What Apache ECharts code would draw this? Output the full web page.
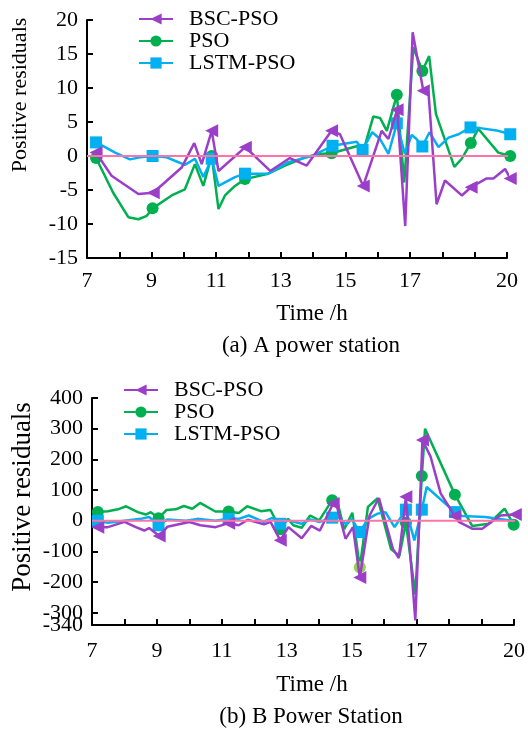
<!DOCTYPE html>
<html>
<head>
<meta charset="utf-8">
<script src="https://cdn.jsdelivr.net/npm/echarts@6/dist/echarts.min.js"></script>
<style>
html,body{margin:0;padding:0;background:#fff;}
#chart{width:528px;height:731px;}
</style>
</head>
<body>
<div id="chart"></div>
<script>
// ---------- Data: (a) A power station ----------
const hA_bsc = [7.28,7.76,8.59,9.05,9.93,10.32,10.55,10.86,11.07,11.9,12.67,13.28,13.8,14.57,14.83,15.55,16.12,16.33,16.6,16.85,17.08,17.41,17.57,17.82,18.08,18.6,18.89,19.37,19.58,19.94,20.1];
const vA_bsc = [0.5,-2.9,-5.6,-5.4,-1.7,1.9,-1.2,3.7,-2.2,1.3,-2.2,-0.3,-1.4,3.7,3.2,-4.4,3.7,2.5,6.8,-10.3,18.2,9.6,9.4,-7.1,-3.6,-5.8,-4.6,-3.3,-3.3,-1.9,-3.3];
const mA_bsc = [7.28,9.05,10.86,11.9,14.57,15.55,16.6,17.41,18.89,20.1];

const hA_pso = [7.28,7.81,8.28,8.59,8.85,9.03,9.62,10.03,10.34,10.6,10.86,11.07,11.27,11.58,11.89,12.61,13.13,13.75,14.16,14.57,15.4,15.6,15.86,16.07,16.28,16.59,16.82,17.1,17.38,17.59,17.8,18.37,18.6,18.88,19.11,19.73,20.1];
const vA_pso = [-0.3,-5.4,-9.0,-9.3,-8.8,-7.7,-5.8,-4.9,-1.2,-4.4,0,-7.8,-5.8,-4.4,-3.4,-2.6,-1.4,-0.2,0.3,0.4,1.5,1.5,5.8,5.6,3.7,9.0,-3.9,16.0,12.5,14.7,6.2,-1.6,-0.4,1.9,4.0,0.5,0];
const mA_pso = [7.28,9.03,10.86,11.89,14.57,16.59,17.38,18.88,20.1];

const hA_lstm = [7.28,7.56,7.87,8.33,8.64,9.03,9.47,9.72,10.03,10.34,10.6,10.86,11.07,11.58,11.89,12.61,13.23,13.96,14.6,15.35,15.53,15.83,16.07,16.33,16.59,16.84,17.05,17.2,17.38,17.6,17.88,18.19,18.5,18.87,19.17,19.73,20.1];
const vA_lstm = [2.0,1.3,0.5,-0.5,-0.2,0,-0.2,-0.7,-1.3,-0.4,-3.1,-0.4,-4.4,-3.1,-2.6,-2.6,-0.9,0,1.5,2.1,0.9,3.5,2.5,0.3,4.8,0.3,3.1,2.5,1.4,3.5,1.3,2.7,3.2,4.2,4.1,3.7,3.2];
const mA_lstm = [7.28,9.03,10.86,11.89,14.6,15.53,16.59,17.38,18.87,20.1];

// ---------- Data: (b) B Power Station ----------
const hB_bsc = [7.18,7.49,8.0,8.35,8.61,8.76,9.07,9.32,10.0,10.34,10.81,11.21,11.52,11.8,12.3,12.5,12.8,13.05,13.46,13.75,14.02,14.43,14.55,14.81,15.04,15.25,15.55,15.84,16.27,16.45,16.67,16.96,17.18,17.43,17.74,18.18,18.3,18.71,19.02,19.58,20.04];
const vB_bsc = [-21,-21,-4,-21,-32,-24,-50,-20,-4,-15,-21,-8,-15,3,-12,-4,-64,-21,-57,-17,-32,56,45,-59,-21,-185,17,74,-92,-122,78,-325,263,209,89,15,-4,-26,-26,17,20];
const mB_bsc = [7.18,9.07,11.21,12.8,14.43,15.25,16.67,17.18,18.18,20.04];

const hB_pso = [7.18,7.49,7.8,8.05,8.41,8.66,8.81,9.05,9.3,9.58,9.83,10.09,10.33,10.8,11.21,11.52,11.78,12.2,12.5,12.8,13.04,13.2,13.46,13.72,14.0,14.4,14.56,14.77,15.02,15.25,15.5,15.8,16.21,16.47,16.67,16.96,17.16,17.26,18.18,18.71,19.22,19.71,19.99];
const vB_pso = [28,31,37,47,28,20,28,8,35,37,48,39,58,30,30,25,47,31,35,-28,6,-15,-23,17,1,67,61,-28,26,-152,45,73,-92,-114,-7,-240,146,300,85,-17,-10,39,-13];
const mB_pso = [7.18,9.05,11.21,12.8,14.4,15.25,16.67,17.16,18.18,19.99];
const lightB_pso = [15.25];

const hB_lstm = [7.18,7.49,8.0,8.5,8.76,9.05,9.32,9.9,10.24,10.8,11.21,11.52,11.83,12.29,12.55,12.8,13.05,13.46,13.72,14.02,14.4,14.6,14.84,15.0,15.25,15.5,15.8,16.04,16.32,16.52,16.67,16.93,17.16,17.31,18.18,18.4,19.12,19.68,19.99];
const vB_lstm = [0,-7,0,6,12,-15,4,0,6,0,6,6,17,-4,9,-10,1,-10,4,-4,10,10,-13,6,-37,6,23,28,-21,12,36,-64,36,110,28,15,12,4,-2];
const mB_lstm = [7.18,9.05,11.21,12.8,14.4,15.25,16.67,17.16,18.18];

// ---------- Axis ticks / labels ----------
const xLabels = [7,9,11,13,15,17,20];
const xTicks = [7,8,9,10,11,12,13,14,15,16,17,18,19,20];
const yTicksB = [-300,-200,-100,0,100,200,300,400];
const yMinLabelB = [-340];
const names = ['BSC-PSO','PSO','LSTM-PSO'];

// ---------- Build ----------
const FONT = "'Liberation Serif','Times New Roman',serif";
const C_BSC = '#9c3fc8', C_PSO = '#00b050', C_LSTM = '#00b0f0', C_PINK = '#ff74a8', C_LIGHT = '#92d050';

function buildData(h, v, marks, light) {
  return h.map((x, i) => {
    const d = { value: [x, v[i]] };
    if (!marks.includes(x)) d.symbol = 'none';
    if (light && light.includes(x)) d.itemStyle = { color: C_LIGHT };
    return d;
  });
}
function mkSeries(name, h, v, marks, idx, color, symbol, size, rot, z, light) {
  return {
    name, type: 'line', xAxisIndex: idx, yAxisIndex: idx,
    data: buildData(h, v, marks, light),
    symbol, symbolSize: size, symbolRotate: rot, showAllSymbol: true,
    clip: false, z,
    lineStyle: { color, width: 2.5 },
    itemStyle: { color },
    emphasis: { disabled: true },
    animation: false
  };
}
function pinkLine(idx) {
  return {
    name: 'zero', type: 'line', xAxisIndex: idx, yAxisIndex: idx,
    data: [[7, 0], [20.7, 0]], symbol: 'none', clip: false, z: 10, silent: true,
    lineStyle: { color: C_PINK, width: 2 }, animation: false
  };
}
function xAxis(idx, margin) {
  return {
    type: 'value', gridIndex: idx, min: 7, max: 20, interval: 1,
    axisLine: { onZero: false, lineStyle: { color: '#000', width: 2 } },
    axisTick: { inside: true, length: 6, lineStyle: { color: '#000', width: 2 }, customValues: xTicks },
    axisLabel: { customValues: xLabels, color: '#000', fontSize: 22, fontFamily: FONT, margin },
    splitLine: { show: false }
  };
}
const axisCommonY = {
  axisLine: { show: true, lineStyle: { color: '#000', width: 2 } },
  splitLine: { show: false }
};
const legendText = { fontSize: 22, fontFamily: FONT, color: '#000', lineHeight: 22, padding: [0,0,0,11] };

const option = {
  backgroundColor: '#fff',
  animation: false,
  grid: [
    { left: 87, top: 20, width: 420, height: 238 },
    { left: 92, top: 398, width: 425, height: 227 }
  ],
  xAxis: [xAxis(0, 12), xAxis(1, 15)],
  yAxis: [
    Object.assign({
      type: 'value', gridIndex: 0, min: -15, max: 20, interval: 5,
      axisTick: { inside: true, length: 6, lineStyle: { color: '#000', width: 2 } },
      axisLabel: { color: '#000', fontSize: 22, fontFamily: FONT, margin: 9, showMinLabel: true }
    }, axisCommonY),
    Object.assign({
      type: 'value', gridIndex: 1, min: -340, max: 400,
      axisTick: { inside: true, length: 6, lineStyle: { color: '#000', width: 2 }, customValues: yTicksB },
      axisLabel: { customValues: yTicksB, color: '#000', fontSize: 22, fontFamily: FONT, margin: 9 }
    }, axisCommonY),
    {
      type: 'value', gridIndex: 1, min: -340, max: 400, position: 'left',
      axisLine: { show: false }, axisTick: { show: false }, splitLine: { show: false },
      axisLabel: { customValues: yMinLabelB, color: '#000', fontSize: 22, fontFamily: FONT, margin: 9 }
    }
  ],
  legend: [
    { data: names, orient: 'vertical', left: 138, top: 8, padding: 0, itemWidth: 34, itemHeight: 14, itemGap: 0,
      textStyle: legendText },
    { data: names, orient: 'vertical', left: 123, top: 379, padding: 0, itemWidth: 34, itemHeight: 14, itemGap: 0,
      textStyle: legendText }
  ],
  series: [
    mkSeries('PSO', hA_pso, vA_pso, mA_pso, 0, C_PSO, 'circle', 12, 0, 2),
    mkSeries('LSTM-PSO', hA_lstm, vA_lstm, mA_lstm, 0, C_LSTM, 'rect', 12, 0, 3),
    mkSeries('BSC-PSO', hA_bsc, vA_bsc, mA_bsc, 0, C_BSC, 'triangle', 13, 90, 4),
    pinkLine(0),
    mkSeries('PSO', hB_pso, vB_pso, mB_pso, 1, C_PSO, 'circle', 12, 0, 2, lightB_pso),
    mkSeries('LSTM-PSO', hB_lstm, vB_lstm, mB_lstm, 1, C_LSTM, 'rect', 12, 0, 3),
    mkSeries('BSC-PSO', hB_bsc, vB_bsc, mB_bsc, 1, C_BSC, 'triangle', 13, 90, 4),
    pinkLine(1)
  ],
  graphic: [
    { type: 'text', x: 20, y: 95, rotation: Math.PI / 2,
      style: { text: 'Positive residuals', font: '22px ' + FONT, fill: '#000', align: 'center', verticalAlign: 'middle', textAlign: 'center', textVerticalAlign: 'middle' } },
    { type: 'text', x: 312, y: 314,
      style: { text: 'Time /h', font: '23px ' + FONT, fill: '#000', align: 'center', verticalAlign: 'middle', textAlign: 'center', textVerticalAlign: 'middle' } },
    { type: 'text', x: 311, y: 346,
      style: { text: '(a) A power station', font: '23px ' + FONT, fill: '#000', align: 'center', verticalAlign: 'middle', textAlign: 'center', textVerticalAlign: 'middle' } },
    { type: 'text', x: 23, y: 497, rotation: Math.PI / 2,
      style: { text: 'Positive residuals', font: '27px ' + FONT, fill: '#000', align: 'center', verticalAlign: 'middle', textAlign: 'center', textVerticalAlign: 'middle' } },
    { type: 'text', x: 312, y: 685,
      style: { text: 'Time /h', font: '23px ' + FONT, fill: '#000', align: 'center', verticalAlign: 'middle', textAlign: 'center', textVerticalAlign: 'middle' } },
    { type: 'text', x: 311, y: 717,
      style: { text: '(b) B Power Station', font: '23px ' + FONT, fill: '#000', align: 'center', verticalAlign: 'middle', textAlign: 'center', textVerticalAlign: 'middle' } }
  ]
};

const chart = echarts.init(document.getElementById('chart'), null, { renderer: 'canvas' });
chart.setOption(option);
</script>
</body>
</html>
